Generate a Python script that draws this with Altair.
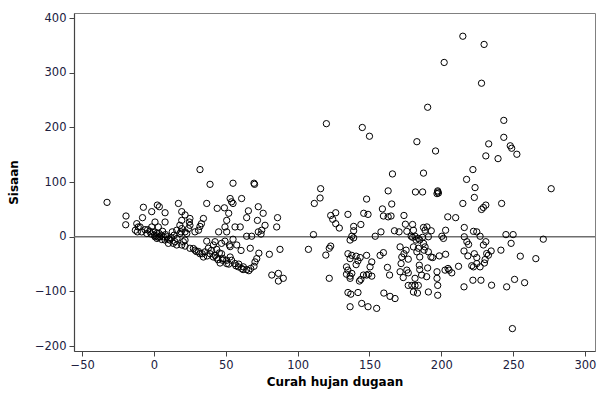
import altair as alt
import pandas as pd

# Predicted rainfall (x) and residuals (y)
left_x = [-32.7, -19.5, -19.7, -13, -12, -11.6, -11, -9.7, -8.6, -8, -7.4, -6.3, -5, -4.4,
          -1.6, -1.6, -0.5, 0.2, 0.7, 0.7, 1.9, 2.3, 3.7, 3, 3, 3.5, 4, 5.4, 6.5, 7.7, 7.7,
          7.7, 9, 10, 10, 11, 12.7, 13.4, 14.6, 15.8, 15.8, 17, 18, 18, 18.8, 19.3, 19.3,
          19.3, 19.3, 20.4, 21.6, 21.6, 21.6, 21.6, 22.8, 24, 24.6, 25, 25, 25, 27.4, 28.5,
          28.5, 31, 31, 32, 32, 32, 33, 34.4, 34.4, 35.5, 36.7, 36.7, 37.8, 39, 39, 40,
          41.3, 41.3, 42.5, 42.5, 43.6, 43.6, 44, 45, 45.5, 46, 47, 47, 47.8, 48, 49, 49.4,
          49.4, 50.6, 50.6, 50.6, 50.6, 52, 52.5, 53, 53, 53, 54, 54, 55, 55, 55, 56.4, 56.4,
          57.6, 58.7, 59, 60, 60.6, 61, 62.2, 62, 64.5, 64.5, 64.5, 65.7, 67, 67.3, 68, 69.6,
          70, 69.6, 70.3, 71.5, 72, 72.6, 72.6, 73, 75, 74.5, 76, 77.3, 80.3, 82, 85.4, 86,
          86.6, 86.6, 87.7, 90,
          1.5, 5, 2, 8, 12, 14, 16, 6, -2, -3, 29.5, 33.5, 37, 44.5, 52, 57, 61, 66]
left_y = [63, 38, 22, 12, 24, 9, 18, 18, 9, 35, 54, 13, 6, 13,
          46, 18, 9, 3, 27, 0, 6, 58, 55, 18, -1, 6, 0, -5, 0, 44, 27,
          -6, 0, -12, -4, -6, 9, -12, -9, -15, 12, 61, 6, 21, 9, 46, 30,
          15, -15, -9, 40, 9, -6, -17, 6, 15, 27, 33.5, 21, -21, -21.5, 9,
          -24.5, 12, -27, 123, 19, -31, 24, 33.5, -37, -27.6, 61, -8, -21, 96, -31, -25,
          -37, -15, -9, -34, -38.6, -23, 52, 9, -29.5, -48, -12, -31, -43, -40, 53, 18,
          -8, 30, 9, -43, -49, 43, -15, 70, -37, -18, 64, -43, 98, 61, -4.5, 18, -49,
          -15, -55, -50, 18, -25, 70, -55, -60, 35, 1, -60, 47.5, -21, -58, 1, 98,
          96, -54, -46, -40, 30, 55, 9, -30, 12, 5, 43, 21, -32, -70, 18, 35,
          -67, -81, -23, -76,
          2, 3, -3, 4, -2, 3, -3, 10, 5, 10, -27, -31, -35, -42, -50, -53, -58, -62]

right_x = [107.5, 111, 111.6, 115.6, 116, 119.6, 120, 122, 122, 123, 123, 124.4, 126.5, 126.5,
           129, 134, 134, 135, 135, 135, 135, 136.5, 136.5, 136.5, 136.5, 136.5, 137, 137.7,
           137.7, 137.7, 139, 139, 139, 140.7, 140.7, 142, 142, 143, 143.5, 144, 144, 144.6,
           145, 145.8, 146, 148, 148, 148, 149, 149, 149.3, 150, 150.4, 151.6, 151.6, 154,
           155, 157.4, 158, 159, 159.7, 159.7, 160, 162.5, 163, 163, 164, 165, 164.3, 165.5,
           166, 167.4, 167.8, 170.6, 171.3, 171.3, 172.5, 172, 173.5, 174, 174, 175, 175.5,
           176, 176, 177, 177, 177, 179, 179.5, 180, 180, 180.6, 180.6, 180.6, 181.7, 181.7,
           181.7, 182, 182.4, 183, 183, 183.4, 184, 184, 184, 184.7, 185, 185, 185, 186.3,
           186.9, 187, 187.6, 187.6, 187.6, 188, 188.7, 188.7, 189.8, 190, 190.5, 190.5, 191,
           191, 191, 192.8, 193, 194, 196, 197, 197, 197.5, 197, 198, 197.5, 197.5, 197.5,
           198.6, 200.4, 201.5, 202, 202.6, 203, 203, 204.5, 204.7, 205.4, 207.3, 210, 212,
           215, 215, 215.8, 215.8, 216, 216, 217.6, 217.8, 219, 218.5, 221.2, 222, 222,
           222.4, 222.4, 223, 223, 223.5, 224.7, 224.7, 224.7, 227, 227, 227.6, 228, 228,
           229.3, 229.3, 229.8, 230, 230.5, 231, 231, 231, 231.6, 232.8, 233, 234.7, 235,
           239.5, 241.5, 242, 243.5, 243.5, 245, 245.5, 248, 249, 248.6, 249.5, 250, 251,
           252.6, 255, 258, 265.8, 271, 276.5]
right_y = [-23, 4, 61, 71, 88, -33.5, 207, -21, -76, 39, -17, 32, 44, 24,
           16, -55, -68.5, 41, -31, -61, -102, -6, -40, -72, -76, -128, -105, 1,
           -34, -67, 11, 19, -2, -35.5, -51, -44, -102, -81, -38, 22.5, -78, -122,
           200, -70, 43, 69, -34, -70, 41, -128, -68.5, 184, -55, -46, -72, 1,
           -131, -34, 9, 51, 38, -29, -103, -56, 84, 36.5, -70, 38, -109, 60,
           115, 11, -113, 9, -18.5, -64, -37, -49, -74.6, 39, -31, 23, -24.5,
           10, -61, -41, -66, -89, 1, -89, 22.5, -1, 12, -101, -18.5, -76, -89,
           1, 82, -6, 174, -27.6, -103, -21, -89, -3, -52, -6, -37, -60, -70,
           -1, 82, 116.5, 17, -12, -24.5, 12, -18.5, -73, 18, -57, 237, -27.6,
           -101, 0, -37, 11, -38, 157, -64, -76, 82, 79, 80, 84, -107, -89,
           -35, 1, -3, 319, -61, 12, -32, 36.5, -58, -61, -66, 35, -54,
           367, 61, -26, -91.6, 17, 0, 105, -9, -14, -35, -53, 123, -79.5,
           -55, 10, 72, -31, 90, 9, -38, -49, 1, -55, -79.5, 281, 50,
           53.6, -15, 352, -48, -41.6, 148, 58, -9, -30.6, -33.7, 170, -26, -88.6,
           143, -24.5, 61, 213, 182, 4, -91.6, 166.5, 162, -12, -168, 4, -78,
           151, -35.5, -84, -40, -4.4, 88]

x_ticks = [-50, 0, 50, 100, 150, 200, 250, 300]
y_ticks = [-200, -100, 0, 100, 200, 300, 400]

df = pd.DataFrame({"x": left_x + right_x, "y": left_y + right_y})
zero = pd.DataFrame({"y": [0]})

FONT = "DejaVu Sans"
LABEL = "#202040"

xscale = alt.Scale(domain=[-55.7, 307], nice=False, zero=False)
yscale = alt.Scale(domain=[-209, 409.5], nice=False, zero=False)

points = alt.Chart(df).mark_point(
    shape="circle", filled=False, color="black", size=40, strokeWidth=1, opacity=1
).encode(
    x=alt.X("x:Q", scale=xscale, title="Curah hujan dugaan",
            axis=alt.Axis(values=x_ticks, grid=False, tickSize=5, labelPadding=3,
                          titlePadding=6)),
    y=alt.Y("y:Q", scale=yscale, title="Sisaan",
            axis=alt.Axis(values=y_ticks, grid=False, tickSize=5, labelPadding=3,
                          titlePadding=14)),
)

rule = alt.Chart(zero).mark_rule(color="#6e6e6e", strokeWidth=1.5).encode(
    y=alt.Y("y:Q", scale=yscale)
)

chart = alt.layer(rule, points).properties(
    width=521, height=338,
    padding={"left": 74, "top": 13, "right": 7, "bottom": 46},
    autosize=alt.AutoSizeParams(type="none"),
    background="white",
).configure_view(
    stroke="#808080", strokeWidth=1
).configure_axis(
    labelFont=FONT, labelFontSize=11.5, labelColor=LABEL,
    titleFont=FONT, titleFontSize=12, titleFontWeight="bold", titleColor="black",
    domainColor="#444444", tickColor="#444444", domainWidth=1.2,
)

chart.save("out.html", embed_options={"renderer": "svg", "actions": False})
